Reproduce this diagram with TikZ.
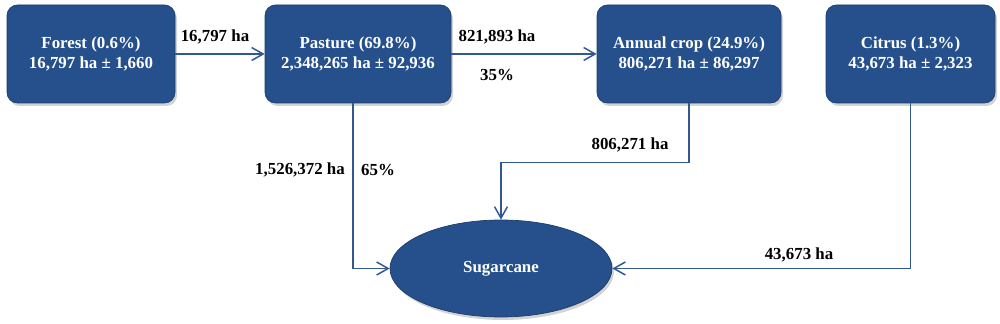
\documentclass[tikz,border=0pt]{standalone}
\usepackage{fontspec}
\setmainfont{Liberation Serif}
\usetikzlibrary{arrows.meta,positioning,shapes.geometric,shadows}
\definecolor{lake}{RGB}{38,80,140}
\definecolor{lakeedge}{RGB}{28,60,108}
\definecolor{wire}{RGB}{50,88,148}
\tikzset{
  >={Straight Barb[length=2.3mm,width=2.6mm]},
  landbox/.style={draw=lakeedge,fill=#1,rounded corners=6pt,thin,
    minimum height=19.6mm,align=center,text=white,
    font=\fontsize{9.6}{11.6}\selectfont\bfseries,
    drop shadow={opacity=0.35,shadow xshift=0.4mm,shadow yshift=-0.6mm}},
  landbox/.default=lake,
  cane/.style={ellipse,draw=lakeedge,fill=lake,thin,minimum width=44.4mm,
    minimum height=19.4mm,text=white,font=\fontsize{9.6}{11.6}\selectfont\bfseries,
    drop shadow={opacity=0.35,shadow xshift=0.4mm,shadow yshift=-0.6mm}},
  flow/.style={->,line width=0.85pt,draw=wire},
  tag/.style={font=\fontsize{9.6}{11.6}\selectfont\bfseries,text=black},
}
\begin{document}
\begin{tikzpicture}
  \useasboundingbox (0,0) rectangle (20,6.48);
  % land uses
  \node[landbox,minimum width=33.6mm] (forest) at (1.82,5.40) {Forest (0.6\%)\\16,797 ha ± 1,660};
  \node[landbox,minimum width=37.2mm] (pasture) at (7.16,5.40) {Pasture (69.8\%)\\2,348,265 ha ± 92,936};
  \node[landbox,minimum width=36.8mm] (annual) at (13.78,5.40) {Annual crop (24.9\%)\\806,271 ha ± 86,297};
  \node[landbox,minimum width=33.8mm] (citrus) at (18.21,5.40) {Citrus (1.3\%)\\43,673 ha ± 2,323};
  \node[cane] (sugar) at (10.02,1.11) {Sugarcane};
  % conversions
  \draw[flow] (forest) -- (pasture);
  \draw[flow] (pasture) -- (annual);
  \draw[flow] ([xshift=-1mm]pasture.south) |- (sugar.west);
  \draw[flow] (annual.south) -- ++(0,-1.18) -| (sugar.north);
  \draw[flow] (citrus.south) |- (sugar.east);
  \node[tag] (t1) at (4.30,5.74) {16,797 ha};
  \node[tag] (t2) at (9.94,5.74) {821,893 ha};
  \node[tag] (t3) at (9.94,4.98) {35\%};
  \node[tag] (t4) at (6.00,3.08) {1,526,372 ha};
  \node[tag] (t5) at (7.56,3.08) {65\%};
  \node[tag] (t6) at (12.60,3.58) {806,271 ha};
  \node[tag] (t7) at (15.98,1.38) {43,673 ha};
\end{tikzpicture}
\end{document}
